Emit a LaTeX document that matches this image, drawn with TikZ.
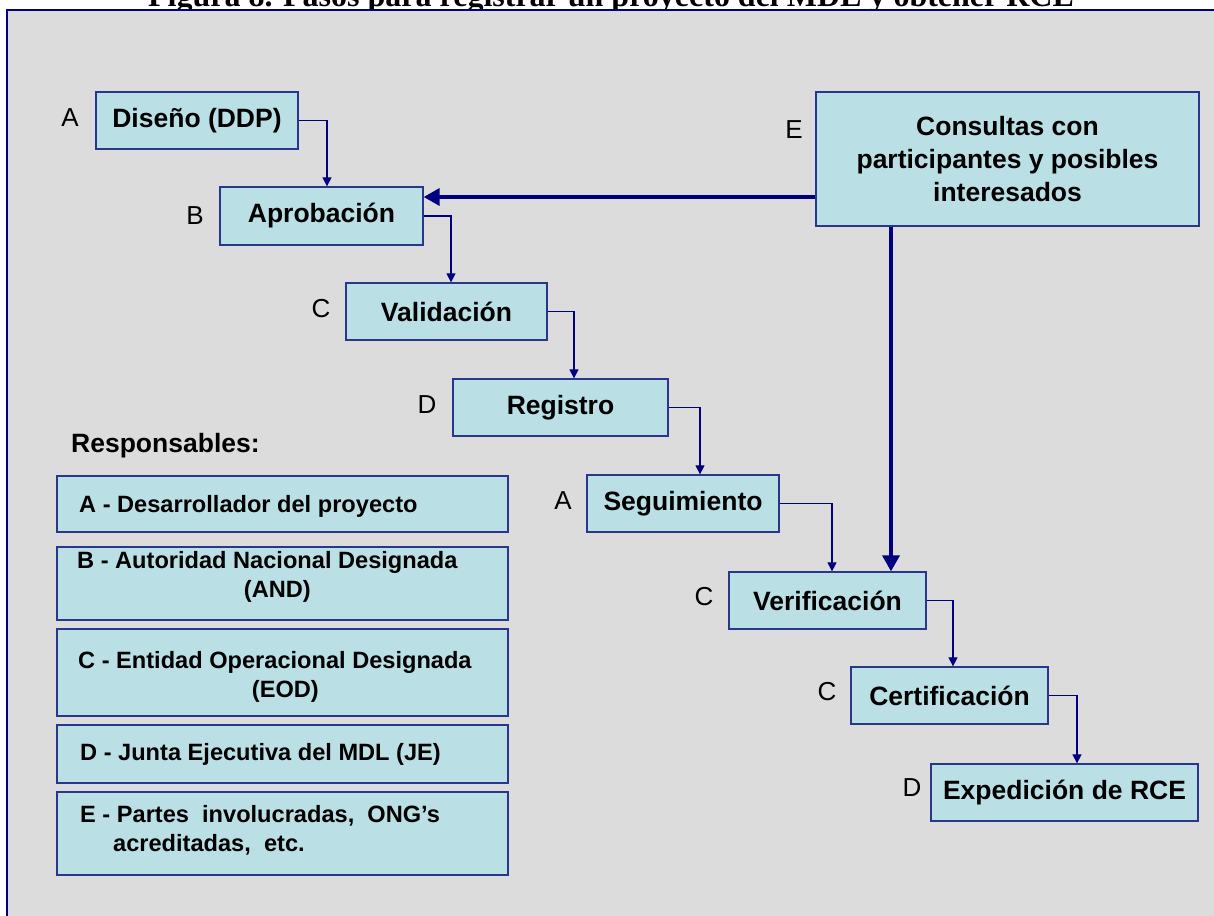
\documentclass[tikz,border=0pt]{standalone}
\usepackage{fontspec}
\setmainfont{Liberation Sans}
\newfontfamily\titleserif{Liberation Serif}
\usetikzlibrary{arrows.meta}
\definecolor{bggray}{RGB}{220,220,220}
\definecolor{boxfill}{RGB}{186,224,229}
\definecolor{boxline}{RGB}{40,55,140}
\definecolor{navyline}{RGB}{0,0,128}
\begin{document}
\begin{tikzpicture}[x=1pt,y=-1pt,
 stepbox/.style={draw=boxline, line width=1.3pt, fill=boxfill, inner sep=0pt, align=center,
   font=\fontsize{26.5}{33}\selectfont\bfseries},
 legbox/.style={draw=boxline, line width=1.3pt, fill=boxfill, inner sep=0pt, minimum width=451pt},
 legtext/.style={inner sep=0pt, font=\fontsize{23.6}{29}\selectfont\bfseries},
 letter/.style={inner sep=0pt, font=\fontsize{26}{30}\selectfont},
 conn/.style={draw=navyline, line width=1.2pt, -{Triangle[width=9pt,length=9pt]}},
 thickconn/.style={draw=navyline, line width=3.5pt, -{Triangle[width=17pt,length=16pt]}}]
\useasboundingbox (0,0) rectangle (1214,915);
% title (partly cut at the top)
\node[anchor=base, inner sep=0pt, font=\titleserif\fontsize{32}{36}\selectfont\bfseries] (title) at (611,7)
  {Figura 8. Pasos para registrar un proyecto del MDL y obtener RCE};
% frame
\path[draw=navyline, fill=bggray, line width=2pt] (6.5,10) rectangle (1240,940);

% step boxes
\node[stepbox, minimum width=202pt, minimum height=57pt] (dis) at (197,120.5) {Diseño (DDP)};
\node[stepbox, minimum width=203pt, minimum height=58pt] (apr) at (321.5,216) {Aprobación};
\node[stepbox, minimum width=201pt, minimum height=57pt] (val) at (446.5,311.5) {Validación};
\node[stepbox, minimum width=215pt, minimum height=57pt] (reg) at (560.5,407.5) {Registro};
\node[stepbox, minimum width=192pt, minimum height=57pt] (seg) at (683,503.5) {Seguimiento};
\node[stepbox, minimum width=197pt, minimum height=57pt] (ver) at (827.5,600.5) {Verificación};
\node[stepbox, minimum width=197pt, minimum height=57pt] (cer) at (949.5,695.5) {Certificación};
\node[stepbox, minimum width=267pt, minimum height=57pt] (exp) at (1064.5,792.5) {Expedición de RCE};
\node[stepbox, minimum width=383pt, minimum height=134pt] (cons) at (1007.5,159)
  {Consultas con\\participantes y posibles\\interesados};

% letters
\node[letter] (l1) at (70,118) {A};
\node[letter] (l2) at (195,216) {B};
\node[letter] (l3) at (321,309) {C};
\node[letter] (l4) at (427,405) {D};
\node[letter] (l5) at (563,501) {A};
\node[letter] (l6) at (704,597) {C};
\node[letter] (l7) at (827,692) {C};
\node[letter] (l8) at (912,788) {D};
\node[letter] (l9) at (794,130) {E};

% thin connectors
\draw[conn] (dis.east) -| ([xshift=5.5pt]apr.north);
\draw[conn] (apr.east) -| ([xshift=4.5pt]val.north);
\draw[conn] (val.east) -| ([xshift=13.5pt]reg.north);
\draw[conn] (reg.east) -| ([xshift=17pt]seg.north);
\draw[conn] (seg.east) -| ([xshift=4.5pt]ver.north);
\draw[conn] (ver.east) -| ([xshift=3.5pt]cer.north);
\draw[conn] (cer.east) -| ([xshift=12.5pt]exp.north);

% thick connectors
\coordinate (ty) at (0,197);
\coordinate (tx) at (891,0);
\draw[thickconn] (cons.west |- ty) -- (apr.east |- ty);
\draw[thickconn] (cons.south -| tx) -- (ver.north -| tx);

% legend
\node[anchor=base west, inner sep=0pt, font=\fontsize{26.5}{33}\selectfont\bfseries] (resp) at (71,452) {Responsables:};
\node[legbox, minimum height=56pt] (ga) at (282.5,504) {};
\node[legbox, minimum height=73pt] (gb) at (282.5,583.5) {};
\node[legbox, minimum height=87pt] (gc) at (282.5,672.5) {};
\node[legbox, minimum height=58pt] (gd) at (282.5,754) {};
\node[legbox, minimum height=83pt] (ge) at (282.5,833.5) {};
\node[legtext, anchor=base west] (ta) at (79,512) {A - Desarrollador del proyecto};
\node[legtext, anchor=west, align=center] (tb) at (77,577) {B - Autoridad Nacional Designada\\\hspace*{20pt}(AND)};
\node[legtext, anchor=west, align=center] (tc) at (78,677) {C - Entidad Operacional Designada\\\hspace*{21pt}(EOD)};
\node[legtext, anchor=base west] (td) at (80,760) {D - Junta Ejecutiva del MDL (JE)};
\node[legtext, anchor=west, align=left] (te) at (80,830) {E - Partes\ \ involucradas,\ \ ONG’s\\\hspace*{33pt}acreditadas,\ \ etc.};
\end{tikzpicture}
\end{document}
